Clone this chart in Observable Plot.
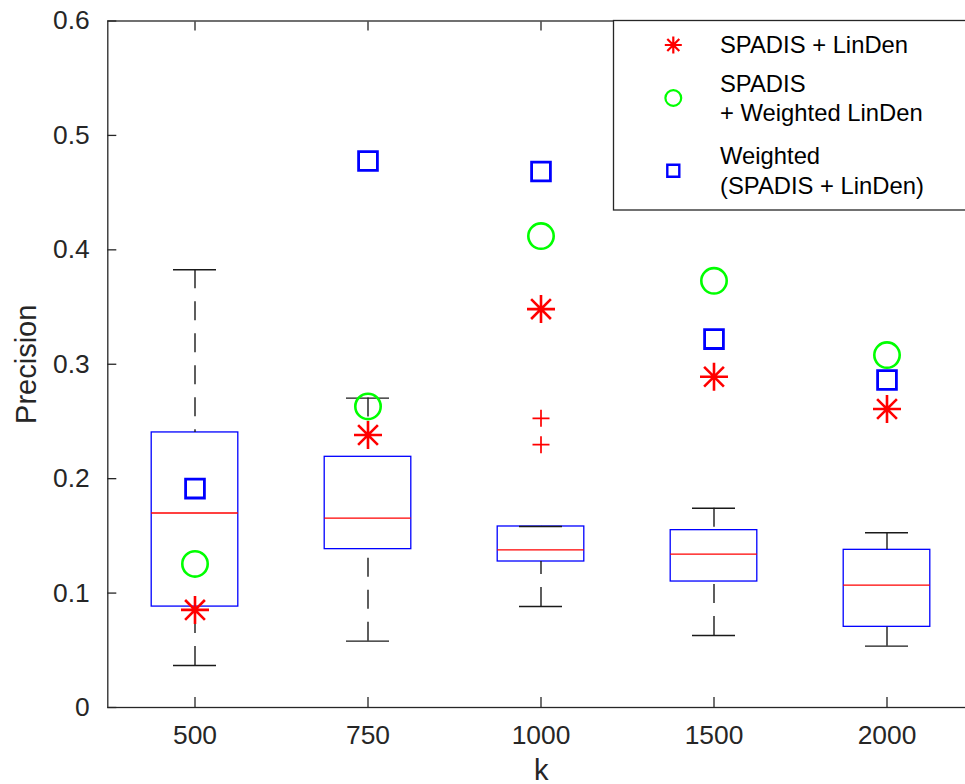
<!DOCTYPE html>
<html>
<head>
<meta charset="utf-8">
<script src="https://cdn.jsdelivr.net/npm/d3@7"></script>
<script src="https://cdn.jsdelivr.net/npm/@observablehq/plot@0.6"></script>
<style>
  html, body { margin: 0; padding: 0; background: #fff; overflow: hidden; }
  #wrap { position: relative; width: 965px; height: 784px; overflow: hidden; background: #fff; }
</style>
</head>
<body>
<div id="wrap"></div>
<script>
// ---- data ----
const kLabels = ["500", "750", "1000", "1500", "2000"];
const whiskerLow  = [0.0367, 0.0580, 0.0883, 0.0629, 0.0536];
const q1          = [0.0882, 0.1384, 0.1276, 0.1101, 0.0705];
const median      = [0.1700, 0.1655, 0.1378, 0.1340, 0.1069];
const q3          = [0.2404, 0.2191, 0.1582, 0.1550, 0.1378];
const whiskerHigh = [0.3826, 0.2704, 0.1582, 0.1742, 0.1527];
const outlierK    = ["1000", "1000"];
const outlierVal  = [0.2527, 0.2297];
const spadisLinDen         = [0.0853, 0.2382, 0.3482, 0.2891, 0.2609];
const spadisWeightedLinDen = [0.1255, 0.2631, 0.4120, 0.3729, 0.3080];
const weightedSpadisLinDen = [0.1913, 0.4777, 0.4684, 0.3220, 0.2862];
const seriesNames = [
  ["SPADIS + LinDen"],
  ["SPADIS", "+ Weighted LinDen"],
  ["Weighted", "(SPADIS + LinDen)"]
];
const yTicks = [0, 0.1, 0.2, 0.3, 0.4, 0.5, 0.6];
const yTickLabels = ["0", "0.1", "0.2", "0.3", "0.4", "0.5", "0.6"];
const xTitle = "k";
const yTitle = "Precision";

// ---- symbols ----
const asteriskSymbol = {
  draw(ctx, size) {
    const r = Math.sqrt(size / Math.PI);
    const d = r * Math.SQRT1_2;
    ctx.moveTo(0, -r); ctx.lineTo(0, r);
    ctx.moveTo(-r, 0); ctx.lineTo(r, 0);
    ctx.moveTo(-d, -d); ctx.lineTo(d, d);
    ctx.moveTo(-d, d); ctx.lineTo(d, -d);
  }
};
const squareSymbol = {
  draw(ctx, size) {
    const r = Math.sqrt(size / Math.PI);
    ctx.rect(-r, -r, 2 * r, 2 * r);
  }
};
const plusSymbol = {
  draw(ctx, size) {
    const r = Math.sqrt(size / Math.PI);
    ctx.moveTo(0, -r); ctx.lineTo(0, r);
    ctx.moveTo(-r, 0); ctx.lineTo(r, 0);
  }
};
const circleSymbol = {
  draw(ctx, size) {
    const r = Math.sqrt(size / Math.PI);
    ctx.moveTo(r, 0); ctx.arc(0, 0, r, 0, 2 * Math.PI);
  }
};

// ---- tables ----
const boxes = kLabels.map((k, i) => ({
  k, lo: whiskerLow[i], q1: q1[i], med: median[i], q3: q3[i], hi: whiskerHigh[i]
}));
const outliers = outlierK.map((k, i) => ({k, v: outlierVal[i]}));
const series = [
  {values: spadisLinDen, color: "#ff0000", symbol: asteriskSymbol, r: 14, sw: 2.6, lr: 8.5, lsw: 2.2},
  {values: spadisWeightedLinDen, color: "#00ff00", symbol: circleSymbol, r: 12.7, sw: 2.6, lr: 7.9, lsw: 2.2},
  {values: weightedSpadisLinDen, color: "#0000ff", symbol: squareSymbol, r: 9.4, sw: 2.8, lr: 6, lsw: 2.4}
];
const points = series.map(s => kLabels.map((k, i) => ({k, v: s.values[i]})));

const axisColor = "#262626";
const font = "'Liberation Sans', Arial, Helvetica, sans-serif";

const chart = Plot.plot({
  width: 965,
  height: 784,
  marginLeft: 107.3,
  marginRight: -9.3,
  marginTop: 20.5,
  marginBottom: 77,
  style: {fontFamily: font, fontSize: "26.4px", color: axisColor, background: "#fff", overflow: "visible"},
  x: {type: "band", domain: kLabels, padding: 0},
  y: {domain: [0, 0.6]},
  marks: [
    // boxes
    Plot.barY(boxes, {x: "k", y1: "q1", y2: "q3", insetLeft: 43.2, insetRight: 43.2, fill: "none", stroke: "#0000ff", strokeWidth: 1.3}),
    Plot.tickY(boxes, {x: "k", y: "med", insetLeft: 43.2, insetRight: 43.2, stroke: "#ff0000", strokeWidth: 1.3}),
    // whiskers (dashed), drawn from cap to box
    Plot.ruleX(boxes, {x: "k", y1: "hi", y2: "q3", stroke: "#1a1a1a", strokeWidth: 1.4, strokeDasharray: "19,13"}),
    Plot.ruleX(boxes, {x: "k", y1: "lo", y2: "q1", stroke: "#1a1a1a", strokeWidth: 1.4, strokeDasharray: "19,13"}),
    Plot.tickY(boxes, {x: "k", y: "hi", insetLeft: 65, insetRight: 65, stroke: "#1a1a1a", strokeWidth: 1.4}),
    Plot.tickY(boxes, {x: "k", y: "lo", insetLeft: 65, insetRight: 65, stroke: "#1a1a1a", strokeWidth: 1.4}),
    // outliers
    Plot.dot(outliers, {x: "k", y: "v", symbol: plusSymbol, r: 8.5, fill: "none", stroke: "#ff0000", strokeWidth: 1.7}),
    // series markers
    ...series.map((s, j) => Plot.dot(points[j], {x: "k", y: "v", symbol: s.symbol, r: s.r, fill: "none", stroke: s.color, strokeWidth: s.sw})),
    // frame & axes
    Plot.frame({stroke: axisColor, strokeWidth: 1.3}),
    Plot.axisY({ticks: yTicks, tickSize: 9, insetLeft: 9, tickPadding: 18, tickFormat: d => yTickLabels[yTicks.indexOf(d)], label: null, stroke: axisColor, fill: axisColor, fontSize: 26.4, strokeWidth: 1.3}),
    Plot.axisX({anchor: "bottom", tickSize: 10, insetBottom: 10, tickPadding: 18, label: null, stroke: axisColor, fill: axisColor, fontSize: 26.4, strokeWidth: 1.3}),
    Plot.axisX({anchor: "top", tickSize: 9, insetTop: 9, tickFormat: () => "", label: null, stroke: axisColor, strokeWidth: 1.3}),
    Plot.text([yTitle], {frameAnchor: "left", text: d => d, rotate: -90, lineAnchor: "top", textAnchor: "middle", dx: -92, fontSize: 29, fill: axisColor}),
    Plot.text([xTitle], {frameAnchor: "bottom", text: d => d, lineAnchor: "bottom", textAnchor: "middle", dy: 72, fontSize: 29, fill: axisColor})
  ]
});
document.getElementById("wrap").appendChild(chart);

// ---- legend (inside the axes, top right) ----
const lg = d3.select("#wrap").append("svg")
  .attr("width", 965).attr("height", 784)
  .style("position", "absolute").style("left", "0px").style("top", "0px")
  .style("pointer-events", "none");
lg.append("rect")
  .attr("x", 613.5).attr("y", 20.5).attr("width", 420).attr("height", 189.5)
  .attr("fill", "#fff").attr("stroke", axisColor).attr("stroke-width", 1.3);
const markerY = [45, 98, 170.7];
const lineH = 29.4;
series.forEach((s, j) => {
  lg.append("path")
    .attr("transform", `translate(673.3,${markerY[j]})`)
    .attr("d", d3.symbol(s.symbol, s.lr * s.lr * Math.PI)())
    .attr("fill", "none").attr("stroke", s.color).attr("stroke-width", s.lsw);
  const lines = seriesNames[j];
  lines.forEach((t, i) => {
    lg.append("text")
      .attr("x", 720)
      .attr("y", markerY[j] - (lines.length - 1) * lineH / 2 + i * lineH + 8.4)
      .attr("font-family", font).attr("font-size", 23.8).attr("fill", "#000")
      .text(t);
  });
});
</script>
</body>
</html>
